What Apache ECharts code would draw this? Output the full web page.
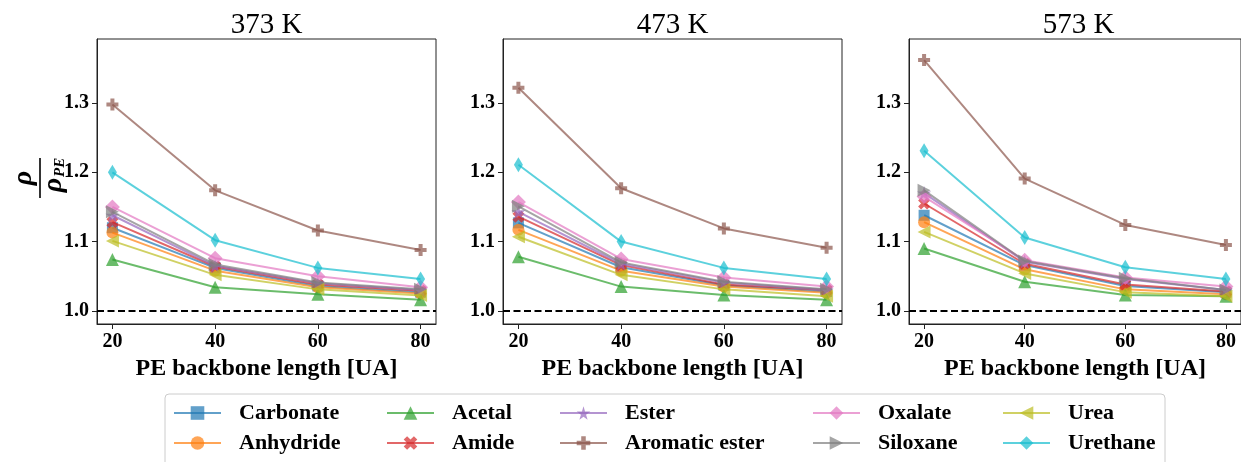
<!DOCTYPE html>
<html>
<head>
<meta charset="utf-8">
<script src="https://cdn.jsdelivr.net/npm/echarts@6/dist/echarts.min.js"></script>
<style>
html,body{margin:0;padding:0;background:#fff;}
#chart{width:1241px;height:462px;}
</style>
</head>
<body>
<div id="chart"></div>
<script>
// ---- data ----
const lengths = [20, 40, 60, 80];
const temperatures = ['373 K', '473 K', '573 K'];
const groups = ['Carbonate', 'Anhydride', 'Acetal', 'Amide', 'Ester', 'Aromatic ester', 'Oxalate', 'Siloxane', 'Urea', 'Urethane'];
const yTicks = [1.0, 1.1, 1.2, 1.3];

const data373 = {
  'Carbonate':      [1.120, 1.062, 1.036, 1.027],
  'Anhydride':      [1.113, 1.058, 1.034, 1.025],
  'Acetal':         [1.074, 1.034, 1.024, 1.016],
  'Amide':          [1.128, 1.064, 1.038, 1.029],
  'Ester':          [1.138, 1.065, 1.040, 1.030],
  'Aromatic ester': [1.298, 1.174, 1.116, 1.088],
  'Oxalate':        [1.150, 1.076, 1.050, 1.034],
  'Siloxane':       [1.143, 1.067, 1.041, 1.031],
  'Urea':           [1.101, 1.052, 1.031, 1.022],
  'Urethane':       [1.200, 1.102, 1.062, 1.046]
};
const data473 = {
  'Carbonate':      [1.127, 1.063, 1.037, 1.028],
  'Anhydride':      [1.117, 1.058, 1.035, 1.026],
  'Acetal':         [1.078, 1.035, 1.023, 1.016],
  'Amide':          [1.136, 1.066, 1.038, 1.030],
  'Ester':          [1.143, 1.068, 1.041, 1.030],
  'Aromatic ester': [1.322, 1.177, 1.119, 1.091],
  'Oxalate':        [1.157, 1.075, 1.048, 1.035],
  'Siloxane':       [1.151, 1.070, 1.042, 1.031],
  'Urea':           [1.107, 1.052, 1.031, 1.021],
  'Urethane':       [1.211, 1.100, 1.062, 1.046]
};
const data573 = {
  'Carbonate':      [1.138, 1.066, 1.036, 1.027],
  'Anhydride':      [1.128, 1.060, 1.031, 1.024],
  'Acetal':         [1.090, 1.042, 1.023, 1.021],
  'Amide':          [1.155, 1.068, 1.038, 1.028],
  'Ester':          [1.170, 1.071, 1.046, 1.030],
  'Aromatic ester': [1.362, 1.191, 1.124, 1.095],
  'Oxalate':        [1.165, 1.073, 1.048, 1.035],
  'Siloxane':       [1.174, 1.072, 1.047, 1.030],
  'Urea':           [1.114, 1.054, 1.027, 1.021],
  'Urethane':       [1.231, 1.106, 1.063, 1.046]
};
const panelData = [data373, data473, data573];

// ---- styles ----
const colors = {
  'Carbonate': '#1f77b4', 'Anhydride': '#ff7f0e', 'Acetal': '#2ca02c', 'Amide': '#d62728',
  'Ester': '#9467bd', 'Aromatic ester': '#8c564b', 'Oxalate': '#e377c2', 'Siloxane': '#7f7f7f',
  'Urea': '#bcbd22', 'Urethane': '#17becf'
};
const starPath = 'path://M50,0 L61,35 L98,35 L68,57 L79,91 L50,70 L21,91 L32,57 L2,35 L39,35 Z';
const xPath = 'path://M0,1 L1,0 L2,1 L3,0 L4,1 L3,2 L4,3 L3,4 L2,3 L1,4 L0,3 L1,2 Z';
const plusPath = 'path://M1,0 L2,0 L2,1 L3,1 L3,2 L2,2 L2,3 L1,3 L1,2 L0,2 L0,1 L1,1 Z';
const markers = {
  'Carbonate': {symbol: 'rect', size: 11, rot: 0},
  'Anhydride': {symbol: 'circle', size: 12, rot: 0},
  'Acetal': {symbol: 'triangle', size: 13, rot: 0},
  'Amide': {symbol: xPath, size: 12, rot: 0},
  'Ester': {symbol: starPath, size: 14, rot: 0},
  'Aromatic ester': {symbol: plusPath, size: 12, rot: 0},
  'Oxalate': {symbol: 'diamond', size: 15, rot: 0},
  'Siloxane': {symbol: 'triangle', size: 13, rot: -90},
  'Urea': {symbol: 'triangle', size: 13, rot: 90},
  'Urethane': {symbol: 'diamond', size: [9, 15], rot: 0}
};

const FONT = "'Liberation Serif', 'DejaVu Serif', serif";
const panelLeft = [97, 503, 909];
const panelW = 339;
const gridTop = 39, gridH = 285;

const grids = [], xAxes = [], yAxes = [], series = [], graphics = [];
panelLeft.forEach((l, p) => {
  grids.push({left: l, top: gridTop, width: panelW, height: gridH, show: true,
    borderColor: '#222', borderWidth: 1, backgroundColor: 'transparent', containLabel: false});
  xAxes.push({type: 'value', gridIndex: p, min: 17, max: 83,
    name: 'PE backbone length [UA]', nameLocation: 'middle', nameGap: 25,
    nameTextStyle: {fontFamily: FONT, fontWeight: 'bold', fontSize: 24, color: '#000', verticalAlign: 'top'},
    axisLine: {show: true, onZero: false, lineStyle: {color: '#222', width: 1}},
    axisTick: {show: true, length: 5, lineStyle: {color: '#222'}, customValues: lengths},
    axisLabel: {show: true, margin: 8, fontFamily: FONT, fontWeight: 'bold', fontSize: 20, color: '#000', customValues: lengths},
    splitLine: {show: false}});
  yAxes.push({type: 'value', gridIndex: p, min: 0.981, max: 1.3925,
    axisLine: {show: true, onZero: false, lineStyle: {color: '#222', width: 1}},
    axisTick: {show: true, length: 5, lineStyle: {color: '#222'}, customValues: yTicks},
    axisLabel: {show: true, margin: 8, fontFamily: FONT, fontWeight: 'bold', fontSize: 20, color: '#000',
      customValues: yTicks, formatter: v => Number(v).toFixed(1)},
    splitLine: {show: false}});
  groups.forEach((g, i) => {
    const m = markers[g];
    const s = {
      name: g, type: 'line', xAxisIndex: p, yAxisIndex: p,
      data: lengths.map((x, k) => [x, panelData[p][g][k]]),
      symbol: m.symbol, symbolSize: m.size, symbolRotate: m.rot, showSymbol: true,
      color: colors[g],
      lineStyle: {width: 2, opacity: 0.7, color: colors[g]},
      itemStyle: {opacity: 0.7, color: colors[g]},
      emphasis: {disabled: true}, animation: false, z: 2 + i * 0.01
    };
    if (i === 0) {
      s.markLine = {silent: true, symbol: ['none', 'none'], label: {show: false},
        lineStyle: {color: '#000', width: 2, type: [7, 3.5], opacity: 1},
        data: [{yAxis: 1.0}], animation: false};
    }
    series.push(s);
  });
  graphics.push({type: 'text', x: l + panelW / 2, y: 25,
    style: {text: temperatures[p], fontFamily: FONT, fontSize: 29, fill: '#000', align: 'center', verticalAlign: 'middle'}});
});

// y-axis label (fraction rho / rho_PE), rotated
graphics.push({type: 'group', x: 40, y: 178, rotation: Math.PI / 2, children: [
  {type: 'text', x: 0, y: -2, style: {text: 'ρ', fontFamily: FONT, fontStyle: 'italic', fontWeight: 'bold', fontSize: 28, fill: '#000', align: 'center', verticalAlign: 'bottom'}},
  {type: 'line', shape: {x1: -20, y1: 0, x2: 20, y2: 0}, style: {stroke: '#000', lineWidth: 1.6}},
  {type: 'text', x: -7, y: 0, style: {text: 'ρ', fontFamily: FONT, fontStyle: 'italic', fontWeight: 'bold', fontSize: 28, fill: '#000', align: 'center', verticalAlign: 'top'}},
  {type: 'text', x: 1, y: 13, style: {text: 'PE', fontFamily: FONT, fontStyle: 'italic', fontWeight: 'bold', fontSize: 15, fill: '#000', align: 'left', verticalAlign: 'top'}}
]});

// legend frame
graphics.push({type: 'rect', shape: {x: 165, y: 394, width: 1000, height: 100, r: 4},
  style: {fill: 'rgba(255,255,255,0.8)', stroke: '#cccccc', lineWidth: 1}, z: 0});

const legendCols = [
  {left: 173, names: ['Carbonate', 'Anhydride']},
  {left: 386, names: ['Acetal', 'Amide']},
  {left: 559, names: ['Ester', 'Aromatic ester']},
  {left: 812, names: ['Oxalate', 'Siloxane']},
  {left: 1002, names: ['Urea', 'Urethane']}
];
const legends = legendCols.map(c => ({
  left: c.left, top: 402, orient: 'vertical', itemWidth: 47, itemHeight: 17, itemGap: 8,
  padding: 0, data: c.names, selectedMode: false,
  textStyle: {fontFamily: FONT, fontWeight: 'bold', fontSize: 22, color: '#000', padding: [0, 0, 0, 13]}
}));

const chart = echarts.init(document.getElementById('chart'), null, {renderer: 'canvas'});
chart.setOption({
  animation: false,
  backgroundColor: '#fff',
  grid: grids, xAxis: xAxes, yAxis: yAxes, series: series,
  legend: legends, graphic: graphics
});
</script>
</body>
</html>
